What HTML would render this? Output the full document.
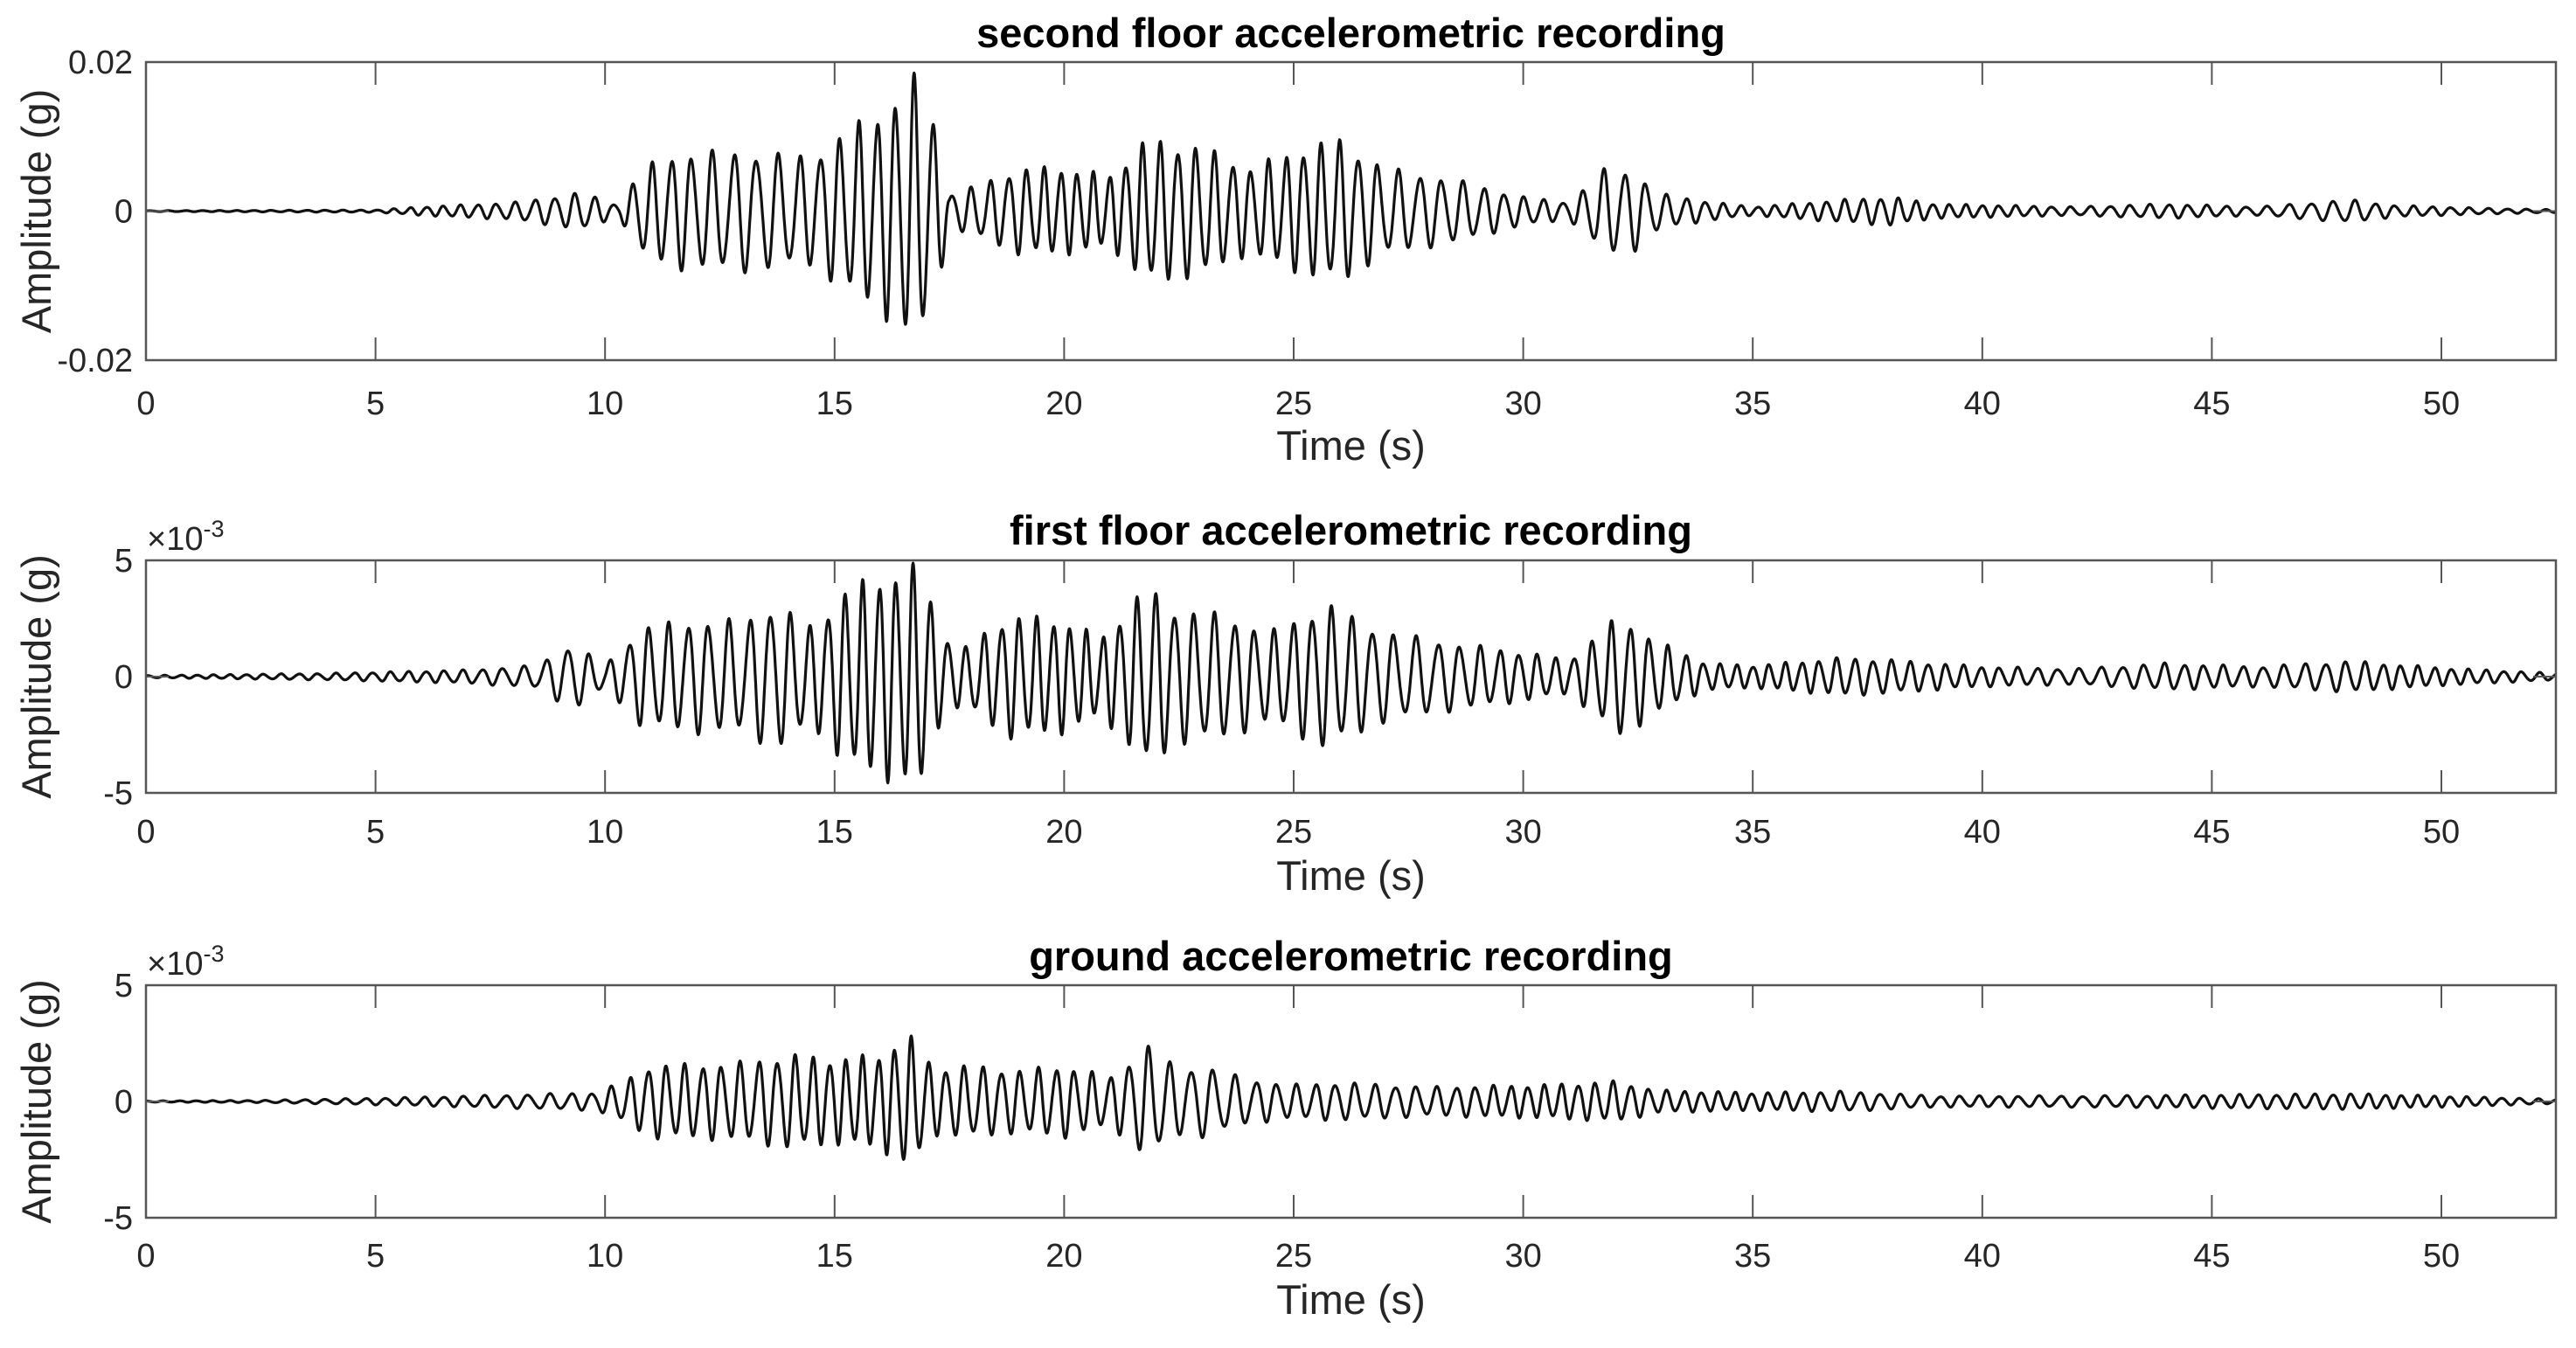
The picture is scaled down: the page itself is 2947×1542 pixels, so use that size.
<!DOCTYPE html>
<html><head><meta charset="utf-8"><style>
html,body{margin:0;padding:0;background:#fff;}
svg{display:block;}
text{font-family:"Liberation Sans",Arial,sans-serif;fill:#262626;}
.t{font-size:38px;}
.ti{font-size:47px;font-weight:bold;fill:#000;}
.xl{font-size:47px;}
</style></head><body>
<svg id="s" width="2947" height="1542" viewBox="0 0 2947 1542" xmlns="http://www.w3.org/2000/svg">
<rect width="2947" height="1542" fill="#fff"/>
<g id="g"></g>
</svg>
<script>
(function(){
var NS="http://www.w3.org/2000/svg",g=document.getElementById("g");
function el(n,a,txt){var e=document.createElementNS(NS,n);for(var k in a)e.setAttribute(k,a[k]);if(txt!=null)e.textContent=txt;g.appendChild(e);return e;}
var L=167,R=2924,pxs=52.52;
function X(t){return L+t*pxs;}
var plots=[
 {top:71,bot:412,title:"second floor accelerometric recording",ylab:["0.02","0","-0.02"],exp:false,tb:54,lb:474,xb:526,
  env:[[0,0.003],[5,0.008],[6,0.03],[8,0.06],[9.5,0.13],[10.3,0.04],[10.8,0.3],[11.5,0.4],[13,0.42],[14.5,0.38],[15.2,0.55],[16,0.7],[16.8,0.95],[17.2,0.6],[17.5,0.12],[18.3,0.2],[19,0.3],[20,0.3],[21,0.25],[21.8,0.5],[23,0.45],[24,0.3],[25.3,0.45],[26,0.5],[27,0.3],[28.5,0.22],[30,0.1],[31,0.06],[31.8,0.3],[32.4,0.28],[33,0.12],[34.2,0.06],[35,0.03],[37,0.08],[38,0.1],[39,0.05],[42,0.03],[44,0.05],[46,0.03],[48,0.08],[49,0.04],[51,0.02],[52.5,0.01]]},
 {top:641,bot:907,title:"first floor accelerometric recording",ylab:["5","0","-5"],exp:true,tb:623,lb:964,xb:1018,
  env:[[0,0.01],[4,0.03],[7,0.06],[8.5,0.1],[9.3,0.3],[10,0.1],[10.8,0.45],[12,0.5],[13,0.5],[13.7,0.65],[14.5,0.45],[15.3,0.8],[16.2,0.92],[16.9,1.0],[17.3,0.4],[17.8,0.25],[18.8,0.55],[20,0.5],[20.8,0.35],[21.8,0.8],[22.5,0.6],[23.5,0.55],[24.5,0.4],[25.7,0.65],[27,0.4],[28.5,0.3],[30,0.22],[31,0.15],[32.1,0.55],[33,0.3],[34,0.12],[35,0.1],[37,0.17],[38,0.15],[40,0.09],[42,0.07],[44,0.12],[46,0.09],[48,0.14],[50,0.08],[52.5,0.03]]},
 {top:1127,bot:1393,title:"ground accelerometric recording",ylab:["5","0","-5"],exp:true,tb:1110,lb:1449,xb:1503,
  env:[[0,0.005],[2.5,0.01],[5,0.03],[8,0.06],[9.8,0.08],[10.5,0.2],[11,0.33],[12,0.33],[13,0.35],[14,0.42],[15,0.38],[16,0.42],[16.6,0.6],[17.2,0.3],[18,0.32],[19,0.28],[20,0.32],[21,0.22],[21.8,0.5],[22.5,0.3],[23,0.32],[24,0.2],[25,0.15],[26,0.17],[28,0.13],[30.5,0.15],[32,0.18],[33,0.1],[35,0.08],[37,0.09],[39,0.05],[42,0.05],[45,0.06],[48,0.07],[50,0.05],[52.5,0.02]]}
];
function envAt(E,t){for(var i=1;i<E.length;i++){if(t<=E[i][0]){var a=E[i-1],b=E[i],f=(t-a[0])/(b[0]-a[0]);return a[1]+(b[1]-a[1])*f;}}return E[E.length-1][1];}
var TK=[0,5,10,15,20,25,30,35,40,45,50];
plots.forEach(function(p,pi){
 var zero=(p.top+p.bot)/2,half=(p.bot-p.top)/2;
 var d="",ph=pi*0.7;
 for(var i=0;i<=5250;i++){var t=i*0.01;
  var f=2.45+0.25*Math.sin(t*0.37+pi)+0.15*Math.sin(t*1.3);
  ph+=2*Math.PI*f*0.01;
  var v=envAt(p.env,t)*(Math.sin(ph)*0.9+0.1*Math.sin(ph*1.7+1));
  var y=zero-v*half;
  d+=(i?"L":"M")+X(t).toFixed(1)+" "+y.toFixed(1);}
 el("path",{d:d,fill:"none",stroke:"#111","stroke-width":"3.2","stroke-linejoin":"round"});
 el("rect",{x:L,y:p.top,width:R-L,height:p.bot-p.top,fill:"none",stroke:"#555","stroke-width":"2.5"});
 TK.forEach(function(t){var x=X(t);
  el("line",{x1:x,y1:p.top,x2:x,y2:p.top+26,stroke:"#555","stroke-width":"2"});
  el("line",{x1:x,y1:p.bot,x2:x,y2:p.bot-26,stroke:"#555","stroke-width":"2"});
  el("text",{x:x,y:p.lb,"class":"t","text-anchor":"middle"},String(t));});
 [p.top,zero,p.bot].forEach(function(y,k){
  el("line",{x1:L,y1:y,x2:L+26,y2:y,stroke:"#555","stroke-width":"2"});
  el("line",{x1:R,y1:y,x2:R-26,y2:y,stroke:"#555","stroke-width":"2"});
  el("text",{x:152,y:y+13,"class":"t","text-anchor":"end"},p.ylab[k]);});
 if(p.exp){var e=el("text",{x:168,y:p.top-12,"class":"t"});
  e.innerHTML='×10<tspan dy="-15" font-size="27">-3</tspan>';}
 el("text",{x:(L+R)/2,y:p.tb,"class":"ti","text-anchor":"middle"},p.title);
 el("text",{x:(L+R)/2,y:p.xb,"class":"xl","text-anchor":"middle"},"Time (s)");
 el("text",{x:0,y:0,"class":"xl","text-anchor":"middle",transform:"translate(58,"+zero+") rotate(-90)"},"Amplitude (g)");
});
})();
</script>
</body></html>
